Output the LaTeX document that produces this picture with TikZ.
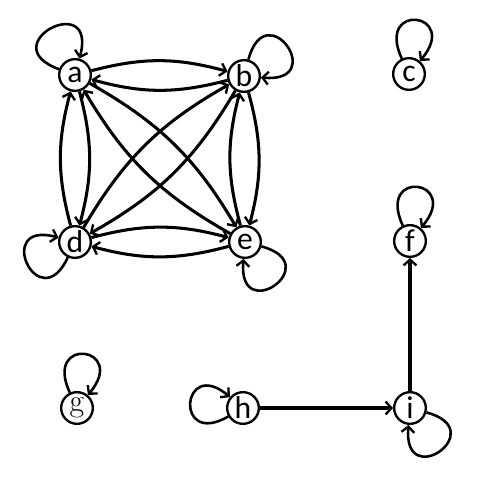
\documentclass[tikz,border=0pt]{standalone}
\usepackage{fontspec}
\setsansfont{Carlito}
\usepackage{tikz}
\usetikzlibrary{arrows.meta}

\tikzset{
  vertex/.style={circle, draw, line width=2pt, minimum size=0.95cm, inner sep=0pt, font=\sffamily\fontsize{27}{28}\selectfont},
  arc/.style={line width=2.6pt, -{Straight Barb[length=5pt, width=11pt, line width=2pt]}},
  selfloop/.style={line width=2.2pt, -{Straight Barb[length=5pt, width=11pt, line width=2pt]}, min distance=1.9cm, looseness=8}
}

\begin{document}
\begin{tikzpicture}[x=0.03cm, y=0.03cm]
    \useasboundingbox (0,0) rectangle (504,-503);

    % vertices
    \node[vertex] (a) at (75,-75) {a};
    \node[vertex] (b) at (244,-76) {b};
    \node[vertex] (c) at (409,-74) {c};
    \node[vertex] (d) at (75,-242) {d};
    \node[vertex] (e) at (245,-242) {e};
    \node[vertex] (f) at (410,-241) {f};
    \node[vertex] (g) at (77,-408) {\rmfamily g};
    \node[vertex] (h) at (243,-408) {h};
    \node[vertex] (i) at (410,-408) {i};

    % complete part
    \foreach \u/\v in {a/b, b/a, a/d, d/a, b/e, e/b, d/e, e/d, a/e, e/a, b/d, d/b}
        \draw[arc] (\u) to[bend left=15] (\v);

    % loops
    \draw[selfloop] (a) to[out=160, in=75] (a);
    \draw[selfloop] (b) to[out=75, in=-5] (b);
    \draw[selfloop] (c) to[out=115, in=50] (c);
    \draw[selfloop] (d) to[out=-115, in=165] (d);
    \draw[selfloop] (e) to[out=-15, in=-95] (e);
    \draw[selfloop] (f) to[out=115, in=50] (f);
    \draw[selfloop] (g) to[out=115, in=50] (g);
    \draw[selfloop] (h) to[out=-150, in=140] (h);
    \draw[selfloop] (i) to[out=-15, in=-95] (i);

    % path h i f
    \draw[arc] (h) -- (i);
    \draw[arc] (i) -- (f);
\end{tikzpicture}
\end{document}
